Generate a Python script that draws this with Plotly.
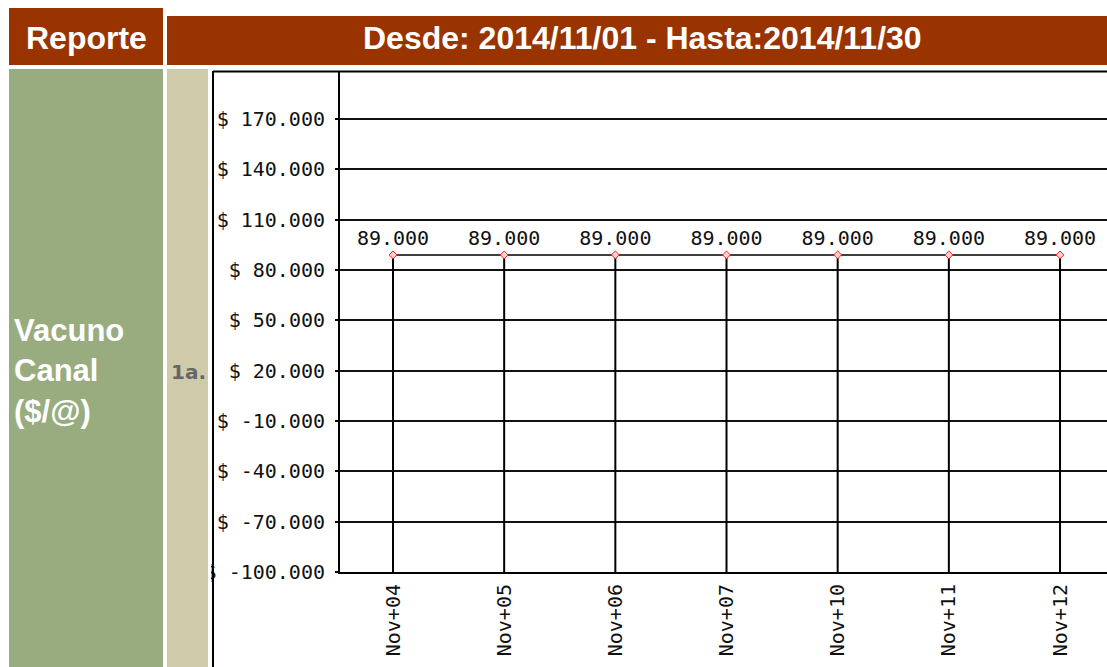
import plotly.graph_objects as go

W, H = 1107, 667
FIG_H = 679  # compensates the vertical squash observed in the capture

categories = ["Nov+04", "Nov+05", "Nov+06", "Nov+07", "Nov+10", "Nov+11", "Nov+12"]
values = [89000, 89000, 89000, 89000, 89000, 89000, 89000]
y_tick_values = [-100000, -70000, -40000, -10000, 20000, 50000, 80000, 110000, 140000, 170000]
y_tick_labels = ["$ -100.000", "$ -70.000", "$ -40.000", "$ -10.000", "$ 20.000",
                 "$ 50.000", "$ 80.000", "$ 110.000", "$ 140.000", "$ 170.000"]
y_min, y_max = -100000, 198000

header_left = "Reporte"
header_right = "Desde: 2014/11/01 - Hasta:2014/11/30"
row_label = "Vacuno<br>Canal<br>($/@)"
row_index = "1a."

def px(x):
    return x / W

def py(y):
    return 1 - y / H

data_labels = [f"{v:,.0f}".replace(",", ".") for v in values]
x_idx = list(range(len(categories)))

MONO = "DejaVu Sans Mono"

fig = go.Figure()
fig.add_trace(go.Scatter(
    x=x_idx, y=values,
    mode="lines+markers+text",
    text=data_labels,
    textposition="top center",
    textfont=dict(family=MONO, size=20, color="#111"),
    line=dict(color="black", width=1.5),
    marker=dict(symbol="diamond", size=6, color="#ffd0d0",
                line=dict(color="#ff2020", width=1)),
    error_y=dict(type="data", symmetric=False,
                 array=[0] * len(values),
                 arrayminus=[v - y_min for v in values],
                 color="black", thickness=2, width=0),
    hoverinfo="skip",
    showlegend=False,
    cliponaxis=False,
))

x0_pix, x_step = 393, 111.17
x_lo = (340 - x0_pix) / x_step
x_hi = (W - x0_pix) / x_step

fig.update_layout(
    width=W, height=FIG_H,
    margin=dict(l=0, r=0, t=0, b=0),
    paper_bgcolor="white",
    plot_bgcolor="white",
    xaxis=dict(
        domain=[px(340), 1],
        range=[x_lo, x_hi],
        tickmode="array", tickvals=x_idx, ticktext=categories,
        tickangle=-90,
        tickfont=dict(family=MONO, size=20, color="#111"),
        showgrid=False, zeroline=False,
        showline=True, linecolor="black", linewidth=2,
        ticks="", ticklabelstandoff=2,
    ),
    yaxis=dict(
        domain=[py(572), py(72)],
        range=[y_min, y_max],
        tickmode="array", tickvals=y_tick_values, ticktext=y_tick_labels,
        tickfont=dict(family=MONO, size=20, color="#111"),
        showgrid=True, gridcolor="#111", gridwidth=2,
        zeroline=False,
        showline=True, linecolor="black", linewidth=2,
        ticks="outside", ticklen=3, tickwidth=2, tickcolor="black",
        ticklabelstandoff=6,
    ),
)

shapes = []
def rect(x0, y0, x1, y1, color):
    shapes.append(dict(type="rect", xref="paper", yref="paper",
                       x0=px(x0), x1=px(x1), y0=py(y1), y1=py(y0),
                       fillcolor=color, line=dict(width=0), layer="above"))

rect(9, 8, 163, 65, "#993300")
rect(167, 16, W + 5, 65, "#993300")
rect(0, 65, 211, H + 20, "white")
rect(9, 69, 163, H + 20, "#98ac80")
rect(167, 69, 208, H + 20, "#cfcbaa")
rect(213, 65, W + 5, 71, "white")
shapes.append(dict(type="line", xref="paper", yref="paper",
                   x0=px(213), x1=px(W + 5), y0=py(71.5), y1=py(71.5),
                   line=dict(color="black", width=2), layer="above"))
shapes.append(dict(type="line", xref="paper", yref="paper",
                   x0=px(213), x1=px(213), y0=py(71), y1=py(H + 20),
                   line=dict(color="black", width=2), layer="above"))
fig.update_layout(shapes=shapes)

ann = []
ann.append(dict(text=f"<b>{header_left}</b>", x=px(86), y=py(38),
                xref="paper", yref="paper", showarrow=False,
                font=dict(family="Liberation Sans", size=32, color="white"),
                xanchor="center", yanchor="middle"))
ann.append(dict(text=f"<b>{header_right}</b>", x=px(642), y=py(38),
                xref="paper", yref="paper", showarrow=False,
                font=dict(family="Liberation Sans", size=32, color="white"),
                xanchor="center", yanchor="middle"))
ann.append(dict(text=f"<b>{row_label}</b>", x=px(12), y=py(371),
                xref="paper", yref="paper", showarrow=False, align="left",
                font=dict(family="Liberation Sans", size=31, color="white"),
                xanchor="left", yanchor="middle"))
ann.append(dict(text=f"<b>{row_index}</b>", x=px(188), y=py(372),
                xref="paper", yref="paper", showarrow=False,
                font=dict(family="DejaVu Sans", size=20, color="#666666"),
                xanchor="center", yanchor="middle"))
fig.update_layout(annotations=ann)

post = (
    "var d=document.documentElement,b=document.body;"
    "d.style.margin='0';d.style.padding='0';d.style.overflow='hidden';"
    "b.style.margin='0';b.style.padding='0';b.style.overflow='hidden';"
)
fig.write_html("out.html", config={"displayModeBar": False}, post_script=post)
